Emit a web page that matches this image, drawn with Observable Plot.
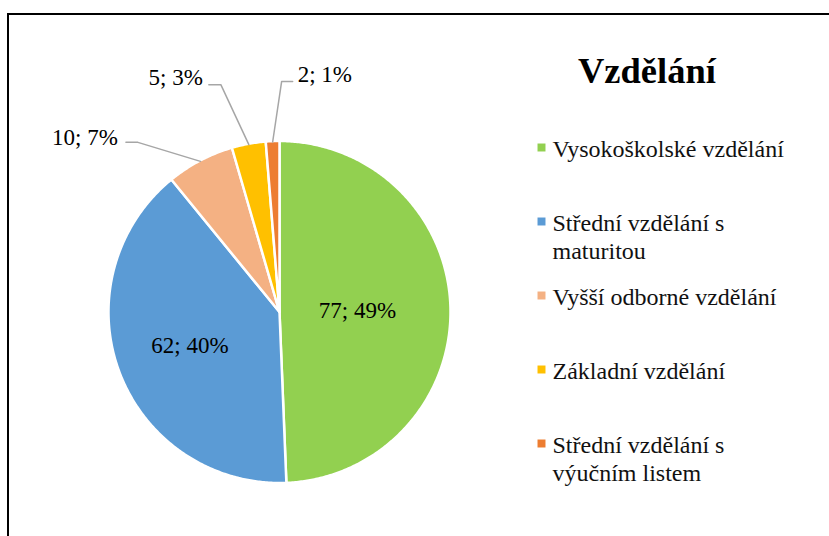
<!DOCTYPE html>
<html><head><meta charset="utf-8">
<script src="https://cdn.jsdelivr.net/npm/d3@7"></script>
<script src="https://cdn.jsdelivr.net/npm/@observablehq/plot@0.6"></script>
<style>
body{margin:0;background:#fff;}
#wrap{position:relative;width:829px;height:536px;overflow:hidden;font-family:'Liberation Serif',serif;background:#fff;}
#chart,#legend{position:absolute;left:0;top:0;}
#frame{position:absolute;left:7px;top:13px;width:900px;height:600px;border:2px solid #000;box-sizing:border-box;pointer-events:none;}
#title{position:absolute;left:578px;top:53px;font-family:'Liberation Serif',serif;font-weight:bold;font-size:36.5px;line-height:36px;color:#000;white-space:nowrap;}
</style></head><body>
<div id="wrap"><div id="chart"></div><div id="legend"></div><div id="frame"></div><div id="title">Vzdělání</div></div>
<script>
// ---- data ----
const categories = ["Vysokoškolské vzdělání", "Střední vzdělání s maturitou", "Vyšší odborné vzdělání", "Základní vzdělání", "Střední vzdělání s výučním listem"];
const legendLabels = ["Vysokoškolské vzdělání", "Střední vzdělání s\nmaturitou", "Vyšší odborné vzdělání", "Základní vzdělání", "Střední vzdělání s\nvýučním listem"];
const values = [77, 62, 10, 5, 2];
const percents = [49, 40, 7, 3, 1];
const colors = ["#92D050", "#5B9BD5", "#F4B183", "#FFC000", "#ED7D31"];

// ---- layout (pixels) ----
const R = 171;
const labelFont = 23;
const legendFont = 24;
const insideRadius = [0.456, 0.56];
// outside labels: offsets in px from slice anchor on the rim
const outside = {
  2: {elbow: [-62.5, -19], start: [-74.5, -19], text: [-82.5, -16.6], anchor: "end"},
  3: {elbow: [-28, -60], start: [-40, -60], text: [-46, -59.3], anchor: "end"},
  4: {elbow: [9, -60.6], start: [20, -60.6], text: [25, -60], anchor: "start"}
};
const serif = "'Liberation Serif', 'Times New Roman', serif";

const data = categories.map((c, i) => ({cat: c, value: values[i], pct: percents[i], color: colors[i], i}));
const arcs = d3.pie().sort(null).value(d => d.value)(data);

// slice polygons
const poly = [];
arcs.forEach(a => {
  const n = Math.max(4, Math.ceil((a.endAngle - a.startAngle) / (Math.PI / 360)));
  poly.push({cat: a.data.cat, x: 0, y: 0});
  for (let k = 0; k <= n; k++) {
    const t = a.startAngle + (a.endAngle - a.startAngle) * k / n;
    poly.push({cat: a.data.cat, x: Math.sin(t), y: Math.cos(t)});
  }
});

const inLabels = [];
const leaders = [];
const outLabels = [];
arcs.forEach((a, idx) => {
  const m = (a.startAngle + a.endAngle) / 2;
  const txt = `${a.data.value}; ${a.data.pct}%`;
  if (outside[idx]) {
    const L = outside[idx];
    const ax = Math.sin(m) * 0.995, ay = Math.cos(m) * 0.995;
    const p = ([dx, dy]) => ({x: ax + dx / R, y: ay - dy / R});
    [ {x: ax, y: ay}, p(L.elbow), p(L.start) ].forEach(q => leaders.push({k: idx, ...q}));
    outLabels.push({...p(L.text), txt, anchor: L.anchor});
  } else {
    const f = insideRadius[idx];
    inLabels.push({x: Math.sin(m) * f, y: Math.cos(m) * f, txt});
  }
});

const plot = Plot.plot({
  width: 829, height: 536,
  margin: 0,
  style: {background: "none", fontFamily: serif},
  x: {domain: [-1, 1], range: [108, 450], axis: null},
  y: {domain: [-1, 1], range: [482.5, 140.5], axis: null},
  color: {domain: categories, range: colors},
  marks: [
    Plot.line(poly, {x: "x", y: "y", z: "cat", fill: "cat", stroke: "white", strokeWidth: 2.5, curve: "linear-closed", strokeLinejoin: "round"}),
    Plot.line(leaders, {x: "x", y: "y", z: "k", stroke: "#A6A6A6", strokeWidth: 1.5}),
    Plot.text(inLabels, {x: "x", y: "y", text: "txt", fontSize: labelFont, fill: "#000"}),
    Plot.text(outLabels.filter(d => d.anchor === "end"), {x: "x", y: "y", text: "txt", fontSize: labelFont, textAnchor: "end", dy: -0.32 * labelFont, fill: "#000"}),
    Plot.text(outLabels.filter(d => d.anchor === "start"), {x: "x", y: "y", text: "txt", fontSize: labelFont, textAnchor: "start", dy: -0.32 * labelFont, fill: "#000"})
  ]
});
document.getElementById("chart").appendChild(plot);

// legend (SVG via Plot)
const legendData = categories.map((c, i) => ({cat: c, label: legendLabels[i]}));
const legendPlot = Plot.plot({
  width: 829, height: 536,
  margin: 0,
  style: {background: "none", fontFamily: serif},
  x: {domain: [0, 1], range: [541, 552], axis: null},
  y: {type: "point", domain: categories, range: [153, 450], padding: 0, axis: null},
  color: {domain: categories, range: colors},
  marks: [
    Plot.dot(legendData, {x: () => 0, y: "cat", fill: "cat", symbol: "square", r: 4.5, dy: -7}),
    Plot.text(legendData, {x: () => 1, y: "cat", text: "label", fontSize: legendFont, textAnchor: "start", lineAnchor: "top", lineHeight: 28 / 24, dy: -0.71 * legendFont, fill: "#111"})
  ]
});
document.getElementById("legend").appendChild(legendPlot);
</script>
</body></html>
